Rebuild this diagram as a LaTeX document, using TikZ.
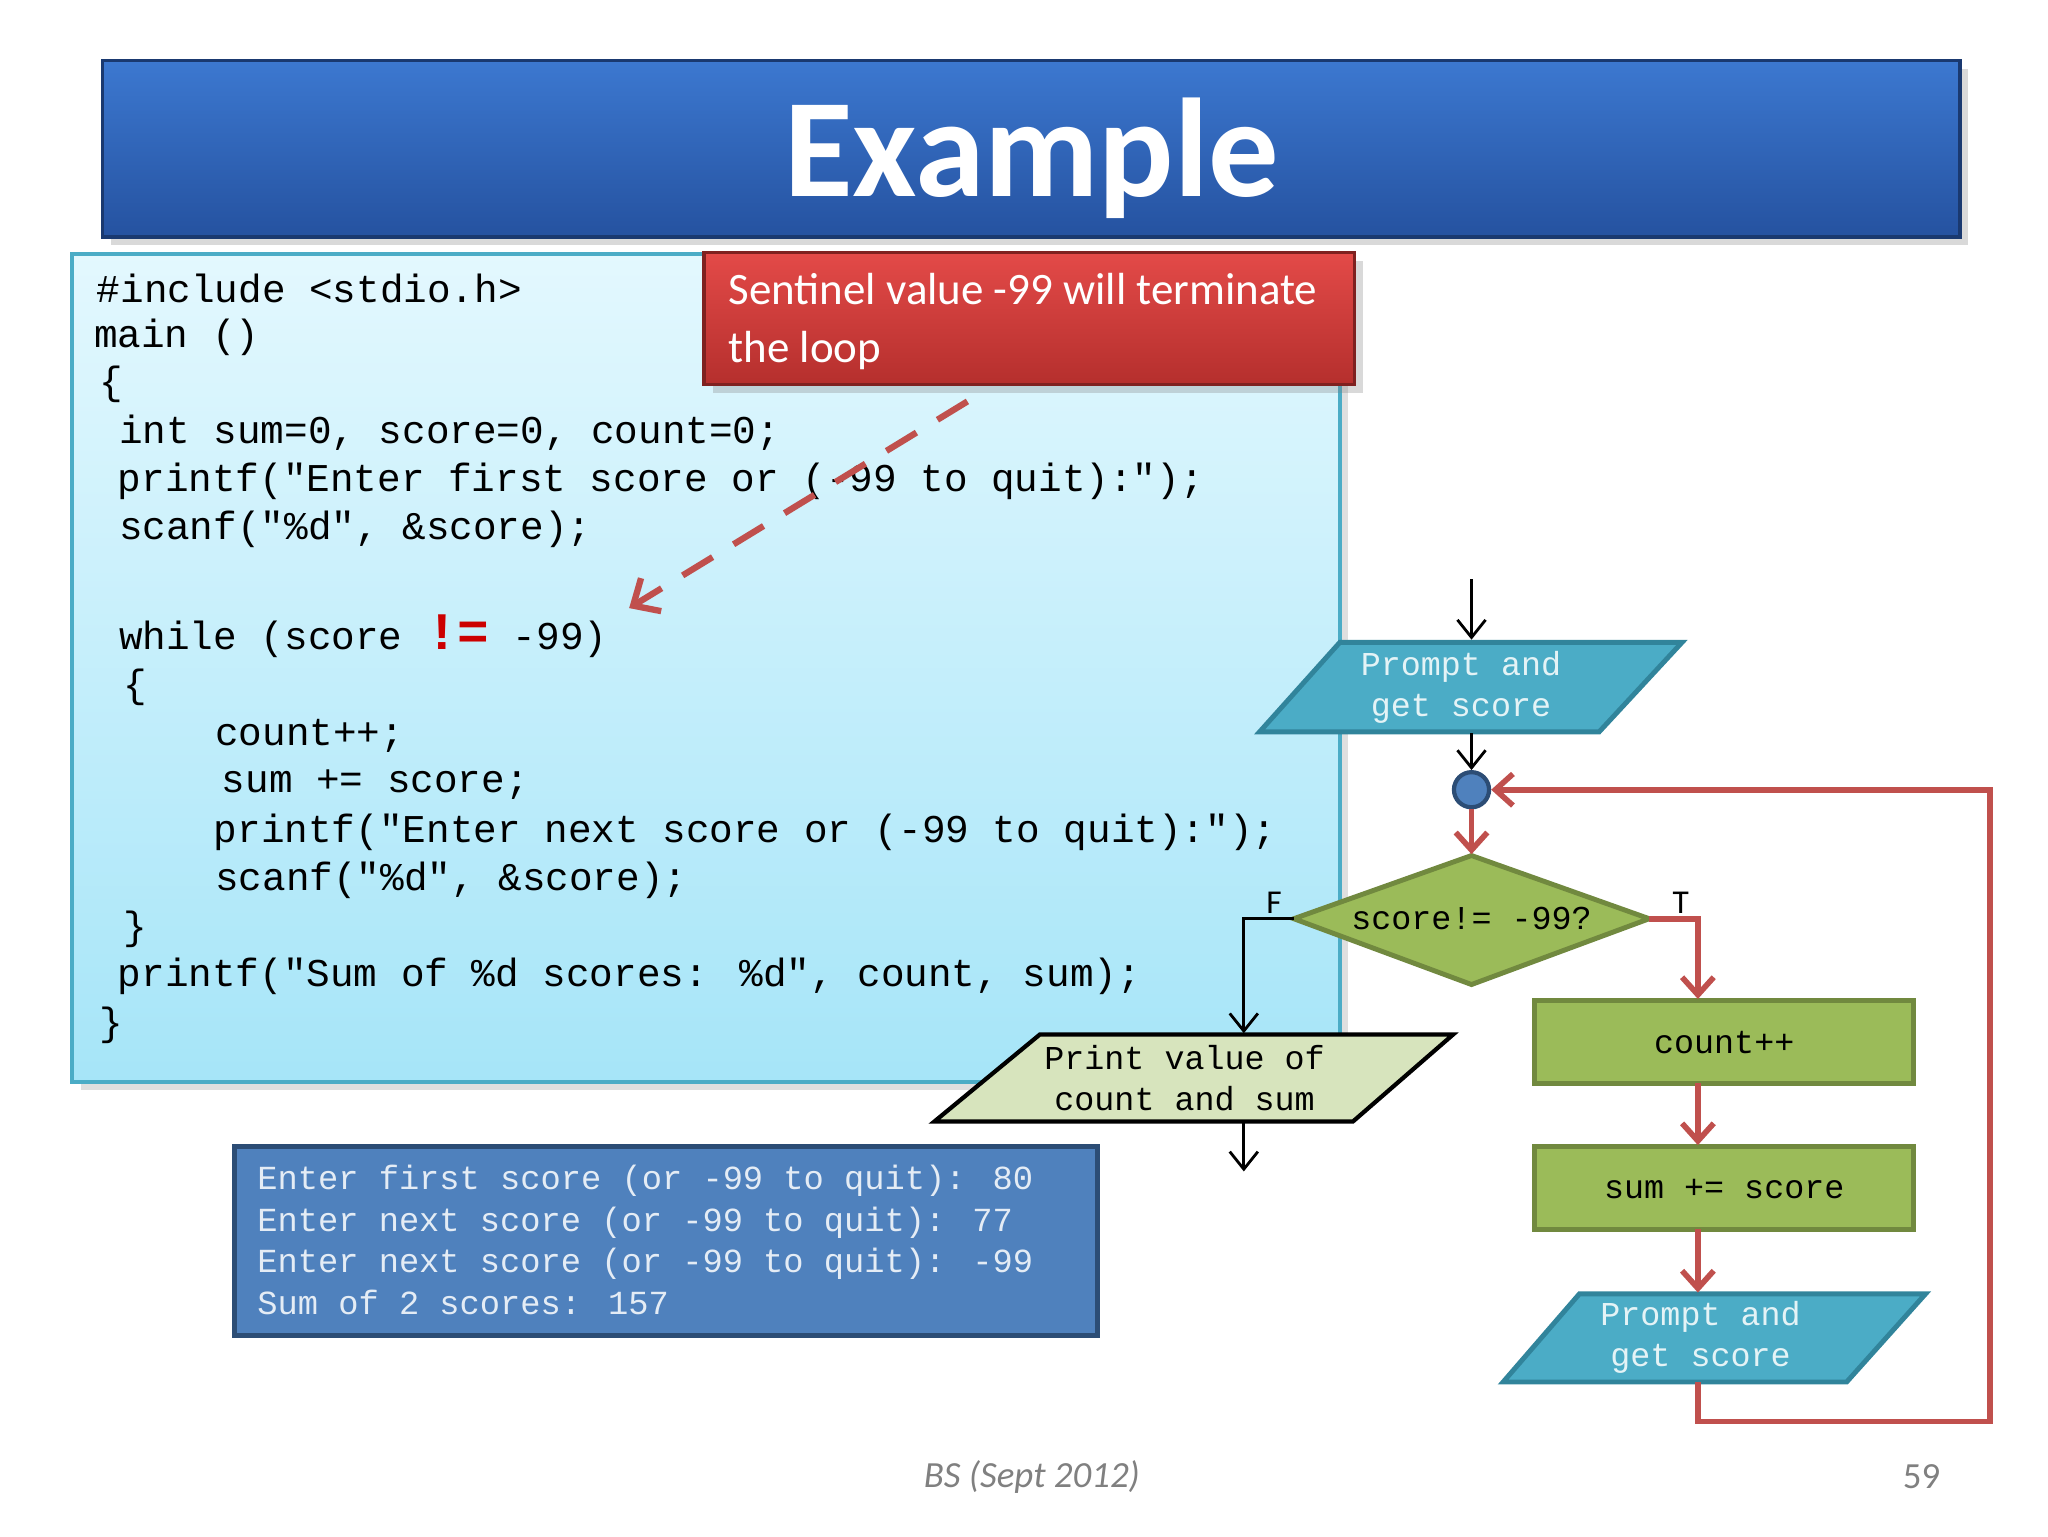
\documentclass[tikz,border=0pt]{standalone}
\usepackage{fontspec}
\setmainfont{Carlito}
\newfontfamily\mono{Liberation Mono}
\usetikzlibrary{arrows.meta,shadows}
\definecolor{codeA}{HTML}{E3F8FE}
\definecolor{codeB}{HTML}{A6E5F8}
\definecolor{pblue}{HTML}{4BACC6}
\definecolor{pblueD}{HTML}{31849B}
\definecolor{grn}{HTML}{9BBB59}
\definecolor{grnD}{HTML}{71893F}
\definecolor{lgrn}{HTML}{D7E4BD}
\definecolor{obox}{HTML}{4F81BD}
\definecolor{oboxD}{HTML}{2C4D75}
\definecolor{lred}{HTML}{C0504D}
\definecolor{tA}{HTML}{3C78D0}
\definecolor{tB}{HTML}{2552A0}
\definecolor{rA}{HTML}{E34A48}
\definecolor{rB}{HTML}{B52F2D}
\tikzset{
 code/.style={anchor=west,inner sep=0pt,font=\mono\fontsize{11.2}{13}\selectfont},
 ftxt/.style={font=\mono\fontsize{9.5}{11.6}\selectfont,align=center},
 para/.style={draw=pblueD,fill=pblue,line width=1.4pt},
 gbox/.style={draw=grnD,fill=grn,line width=1.4pt},
 rarr/.style={draw=lred,line width=1.6pt,-{Straight Barb[length=5pt,width=9pt]}},
 barr/.style={draw=black,line width=0.8pt,-{Straight Barb[length=5pt,width=8pt]}},
}
\begin{document}
\begin{tikzpicture}[x=0.013162cm,y=-0.013162cm]
\useasboundingbox (0,0) rectangle (1556,1167);
% title
\path[top color=tA,bottom color=tB,draw=tB!70!black,line width=1pt,drop shadow={opacity=0.3}] (78,46) rectangle (1489,180);
\node[font=\fontsize{40}{44}\selectfont\bfseries,text=white] (title) at (784,120) {Example};
% code box
\path[top color=codeA,bottom color=codeB,draw=pblue,line width=1.2pt,drop shadow={opacity=0.25}] (55,193) rectangle (1018,822);
\node[code] (c1) at (73,219) {\#include <stdio.h>};
\node[code] (c2) at (71,256) {main ()};
\node[code] (c3) at (75,292) {\{};
\node[code] (c4) at (90,329) {int sum=0, score=0, count=0;};
\node[code] (c5) at (89,366) {printf("Enter first score or (-99 to quit):");};
\node[code] (c6) at (90,402) {scanf("\%d", \&score);};
\node[code] (c7) at (90,483) {while (score \textcolor{red!80!black}{\fontsize{15}{15}\selectfont\bfseries!=} -99)};
\node[code] (c8) at (93,522) {\{};
\node[code] (c9) at (163,559) {count++;};
\node[code] (c10) at (168,596) {sum += score;};
\node[code] (c11) at (162,632) {printf("Enter next score or (-99 to quit):");};
\node[code] (c12) at (163,669) {scanf("\%d", \&score);};
\node[code] (c13) at (93,706) {\}};
\node[code] (c14) at (89,742) {printf("Sum of \%d scores: \%d", count, sum);};
\node[code] (c15) at (75,779) {\}};
% red callout
\path[top color=rA,bottom color=rB,draw=rB!70!black,line width=1pt,drop shadow={opacity=0.3}] (535,192) rectangle (1029,292);
\node[anchor=north west,text=white,align=left,font=\fontsize{12.8}{16.5}\selectfont,inner sep=0pt] (call) at (553,207) {Sentinel value -99 will terminate\\the loop};
\coordinate (ds) at (735,305);
\coordinate (de) at (478,462);
\draw[lred,line width=1.8pt,dash pattern=on 10pt off 7pt,-{Straight Barb[length=6pt,width=11pt]}] (ds) -- (de);
% flowchart
\coordinate (in) at (1118,440);
\path[para] (957,556) -- (1018,488) -- (1278,488) -- (1215,556) -- cycle;
\node[ftxt,text=white!85!pblue] (p1) at (1110,522) {Prompt and\\get score};
\draw[barr] (in) -- (1118,486);
\node[circle,draw=oboxD,fill=obox,line width=1.2pt,minimum size=10pt,inner sep=0pt] (j) at (1118,600) {};
\draw[barr] (1118,557) -- (j.north);
\path[gbox] (983,698) -- (1118,650) -- (1253,698) -- (1118,748) -- cycle;
\node[ftxt] (d) at (1118,698) {score!= -99?};
\draw[rarr] (j.south) -- (1118,649);
\node[font=\fontsize{9.5}{10}\selectfont] (F) at (968,686) {F};
\node[font=\fontsize{9.5}{10}\selectfont] (T) at (1277,686) {T};
\path[gbox] (1166,760) rectangle (1454,823);
\node[ftxt] (cnt) at (1310,792) {count++};
\path[gbox] (1166,871) rectangle (1454,934);
\node[ftxt] (sm) at (1310,903) {sum += score};
\path[para] (1142,1050) -- (1200,983) -- (1463,983) -- (1403,1050) -- cycle;
\node[ftxt,text=white!85!pblue] (p2) at (1292,1016) {Prompt and\\get score};
\draw[rarr] (1253,698) -- (1290,698) -- (1290,759);
\draw[rarr] (1290,823) -- (1290,870);
\draw[rarr] (1290,934) -- (1290,982);
\draw[rarr] (1290,1050) -- (1290,1080) -- (1512,1080) -- (1512,600) -- (j.east);
\draw[barr] (983,698) -- (945,698) -- (945,785);
\path[draw=black,fill=lgrn,line width=1.2pt] (710,852) -- (790,786) -- (1104,786) -- (1028,852) -- cycle;
\node[ftxt] (pr) at (900,819) {Print value of\\count and sum};
\coordinate (out) at (945,890);
\draw[barr] (945,852) -- (out);
% output
\path[fill=obox,draw=oboxD,line width=1.4pt] (178,871) rectangle (834,1015);
\node[anchor=north west,align=left,inner sep=0pt,text=white!85!obox,font=\mono\fontsize{9.6}{11.8}\selectfont] (o) at (195,885) {Enter first score (or -99 to quit): 80\\Enter next score (or -99 to quit): 77\\Enter next score (or -99 to quit): -99\\Sum of 2 scores: 157};
% footer
\node[text=gray,font=\fontsize{10.5}{12}\selectfont\itshape] (f1) at (784,1122) {BS (Sept 2012)};
\node[text=gray,font=\fontsize{10.5}{12}\selectfont] (f2) at (1460,1122) {59};
\end{tikzpicture}
\end{document}
